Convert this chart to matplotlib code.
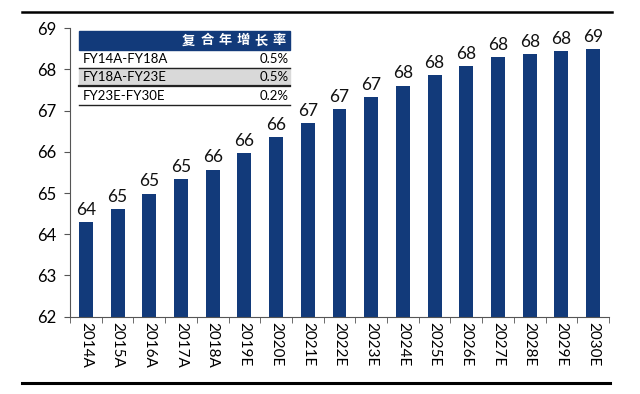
import matplotlib
matplotlib.use("Agg")
import matplotlib.pyplot as plt
from matplotlib.patches import Rectangle
from matplotlib.lines import Line2D

plt.rcParams['font.family'] = ['Lato', 'Noto Sans CJK SC', 'DejaVu Sans']

years = ["2014A", "2015A", "2016A", "2017A", "2018A", "2019E", "2020E", "2021E",
         "2022E", "2023E", "2024E", "2025E", "2026E", "2027E", "2028E", "2029E", "2030E"]
values = [64.29, 64.61, 64.99, 65.33, 65.57, 65.97, 66.36, 66.71,
          67.04, 67.33, 67.61, 67.87, 68.09, 68.30, 68.37, 68.44, 68.50]
value_labels = ["64", "65", "65", "65", "66", "66", "66", "67",
                "67", "67", "68", "68", "68", "68", "68", "68", "69"]
yticks = [62, 63, 64, 65, 66, 67, 68, 69]

table_header = "复合年增长率"
table_periods = ["FY14A-FY18A", "FY18A-FY23E", "FY23E-FY30E"]
table_cagr = ["0.5%", "0.5%", "0.2%"]

navy = "#123a7a"

fig = plt.figure(figsize=(6.4, 3.94), dpi=100)
ax = fig.add_axes([0.1094, 0.1962, 0.8422, 0.7320])

x = list(range(len(years)))
ax.bar(x, values, width=0.44, bottom=0, color=navy, zorder=2)
for xi, v, lab in zip(x, values, value_labels):
    ax.text(xi, v + 0.1, lab, ha="center", va="bottom", fontsize=12.5, color="#111111")

ax.set_ylim(62, 69)
ax.set_xlim(-0.5, len(years) - 0.5)
ax.set_yticks(yticks)
ax.set_yticklabels([str(t) for t in yticks], fontsize=12)
ax.set_xticks(x)
ax.set_xticklabels(years, rotation=270, fontsize=11)
ax.tick_params(axis="x", length=0, pad=4)
ax.set_xticks([i - 0.5 for i in range(len(years) + 1)], minor=True)
ax.tick_params(axis="x", which="minor", length=4, direction="out", color="#555555")
ax.tick_params(axis="y", length=4, direction="out", color="#555555", pad=6)
for s in ["top", "right"]:
    ax.spines[s].set_visible(False)
ax.spines["left"].set_color("#555555")
ax.spines["bottom"].set_color("#555555")

# CAGR table
tx0, tx1 = 0.0167, 0.408
rows_y = [0.9906, 0.9248, 0.8613, 0.7999, 0.734]
ax.add_patch(Rectangle((tx0, rows_y[1]), tx1 - tx0, rows_y[0] - rows_y[1],
                       transform=ax.transAxes, color=navy, zorder=3))
hx = tx1 - 0.008
for ch in table_header[::-1]:
    t = ax.text(hx, (rows_y[0] + rows_y[1]) / 2, ch, transform=ax.transAxes,
                ha="right", va="center", color="white", fontsize=9.5, fontweight="bold",
                family=['Noto Sans CJK SC'], zorder=4)
    hx -= 0.0335
ax.add_patch(Rectangle((tx0, rows_y[3]), tx1 - tx0, rows_y[2] - rows_y[3],
                       transform=ax.transAxes, color="#d9d9d9", zorder=3))
for i, (p, c) in enumerate(zip(table_periods, table_cagr)):
    yc = (rows_y[i + 1] + rows_y[i + 2]) / 2
    ax.text(tx0 + 0.006, yc, p, transform=ax.transAxes, ha="left", va="center",
            fontsize=9.5, zorder=4)
    ax.text(tx1 - 0.003, yc, c, transform=ax.transAxes, ha="right", va="center",
            fontsize=9.5, zorder=4)
line_w = [1.0, 1.6, 1.0]
for yy, lw in zip(rows_y[2:], line_w):
    ax.add_line(Line2D([tx0, tx1], [yy, yy], transform=ax.transAxes, color="#222222",
                       lw=lw, zorder=5))

# page rules (cropped report frame)
fig.add_artist(Line2D([22 / 640, 612 / 640], [1 - 12 / 394, 1 - 12 / 394],
                      color="black", lw=1.8))
fig.add_artist(Line2D([22 / 640, 610 / 640], [1 - 383 / 394, 1 - 383 / 394],
                      color="black", lw=2.2))

fig.savefig("out.png", dpi=100)
